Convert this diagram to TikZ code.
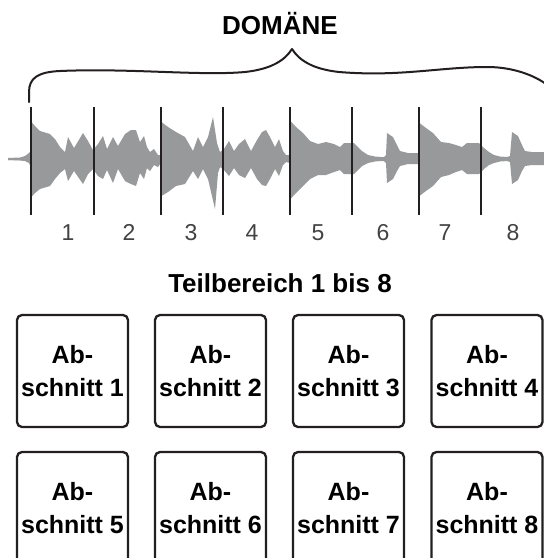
\documentclass[tikz,border=0pt]{standalone}
\usepackage{fontspec}
\setmainfont{Liberation Sans}
\definecolor{wavefill}{RGB}{152,153,155}
\definecolor{ink}{RGB}{35,31,32}
\begin{document}
\begin{tikzpicture}[x=1pt,y=-1pt,
  wave/.style={fill=wavefill},
  marker/.style={draw=ink,line width=2.3pt},
  bracepath/.style={draw=ink,line width=2pt,line cap=round,line join=round},
  heading/.style={font=\fontsize{26}{30}\selectfont\bfseries,text=black,anchor=base,inner sep=0pt},
  ticklabel/.style={font=\fontsize{23}{27}\selectfont,text=ink!85,anchor=base,inner sep=0pt},
  part/.style={draw=ink,line width=2.3pt,rounded corners=5pt,minimum width=111pt,
    minimum height=112pt,inner sep=0pt,align=center,
    font=\fontsize{25}{33}\selectfont\bfseries}]
\useasboundingbox (0,0) rectangle (544,558);
\clip (0,0) rectangle (544,558);

% headline and brace over the whole recording
\node[heading] (domain) at (280,34) {DOMÄNE};
\draw[bracepath] (29,102) -- (29,92)
  .. controls (29,78) and (38,72) .. (60,71)
  .. controls (130,68) and (200,76) .. (245,72)
  .. controls (272,69) and (285,60) .. (292,49)
  .. controls (299,60) and (312,69) .. (339,72)
  .. controls (400,77) and (440,67) .. (487,67)
  .. controls (525,67) and (553,85) .. (555,95) -- (555,102);

% waveform: upper half
\fill[wave] (8,160) \foreach \x/\a in {
  8/1,20/1.5,25/3,29/6,31/9,
  31.5/37,35/33,40/28,50/25,55/20,60/12,65/7,68/22,74/11,83/26,88/18,93/9,
  98/15,103/23,107/10,113/22,118/13,125/25,131/29,136/29,140/17,144/23,147/12,
  150/7,154/10,158/4,161/4,
  161.5/37,168/32,176/27,185/22,193/8,198/22,203/12,208/22,213/42,217/16,220/7,
  224/10,229/18,234/8,239/15,245/20,251/8,257/19,262/27,266/29,270/22,275/12,
  279/20,283/8,286/4,290/4,
  290.5/38,296/32,303/26,310/18,318/15,326/17,334/15,340/12,344/16,354/16,
  358/12,362/8,368/4,375/2.5,381/2,384/2,386/4,387/26,393/22,397/14,400/8,
  408/6,419/6,
  419.5/36,426/31,433/26,441/17,449/16,456/14,462/12,467/16,479/16,484/11,
  489/7,494/4,500/2.5,507/2,510/3,512/27,518/23,522/14,525/8,532/7,544/7}
  { -- (\x,159-\a) } -- (544,160) -- cycle;
% waveform: lower half
\fill[wave] (8,158) \foreach \x/\a in {
  8/1,20/1.5,25/2,29/4,31/8,
  31.5/38,35/34,40/30,50/27,55/20,60/14,65/10,68/22,74/12,83/25,88/15,93/10,
  98/17,103/20,107/11,113/24,118/10,125/22,131/25,136/27,140/14,144/20,147/9,
  150/12,154/6,158/8,161/4,
  161.5/37,168/33,176/27,185/25,193/12,198/20,203/10,208/20,215/50,218/14,
  220/8,224/11,229/17,234/9,239/16,245/19,251/9,257/20,262/26,266/27,270/20,
  275/10,279/17,283/6,286/3,290/4,
  290.5/40,296/34,303/27,310/20,318/16,326/16,334/13,340/11,344/15,354/15,
  358/11,362/7,368/4,375/2.5,381/2,384/2,386/4,387/24,393/20,397/12,400/7,
  408/5,419/5,
  419.5/37,426/32,433/27,441/18,449/16,456/13,462/11,467/15,479/15,484/10,
  489/6,494/4,500/2.5,507/2,510/3,512/25,518/21,522/12,525/7,532/6,544/6}
  { -- (\x,159+\a) } -- (544,158) -- cycle;

% section markers and their numbers
\foreach \x in {31,94,161,223,290,352,419,481}
  \draw[marker] (\x,107) -- (\x,215);
\foreach \x/\n in {68/1,129/2,191/3,252/4,318/5,383/6,445/7,513/8}
  \node[ticklabel] (num\n) at (\x,240) {\n};

% subdivision heading and the section boxes
\node[heading] (range) at (280,292) {Teilbereich 1 bis 8};
\foreach \x/\n in {72.5/1,210.5/2,348.5/3,487/4}
  \node[part] (sec\n) at (\x,371) {Ab-\\schnitt \n};
\foreach \x/\n in {72.5/5,210.5/6,348.5/7,487/8}
  \node[part] (sec\n) at (\x,508) {Ab-\\schnitt \n};
\end{tikzpicture}
\end{document}
